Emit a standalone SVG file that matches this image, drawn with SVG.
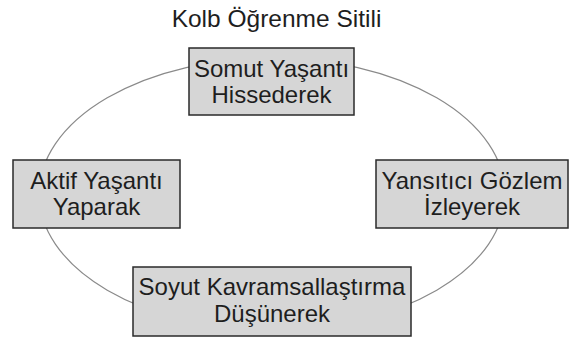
<svg xmlns="http://www.w3.org/2000/svg" width="588" height="339" viewBox="0 0 588 339">
<style>
.bg{fill:#ffffff}
.cycle{fill:none;stroke:#8a8a8a;stroke-width:1.2}
.box{fill:#d6d6d6;stroke:#2a2a2a;stroke-width:1.5}
.t{font-family:"Liberation Sans",Arial,sans-serif;font-size:24px;fill:#1e1e1e;text-anchor:middle}
.title{font-size:24.5px}
</style>
<rect class="bg" x="0" y="0" width="588" height="339"/>
<text class="t title" x="276.5" y="27">Kolb Öğrenme Sitili</text>
<g id="connectors">
<ellipse class="cycle" cx="272" cy="194" rx="233" ry="136"/>
</g>
<g id="somut">
<rect class="box" x="189" y="48" width="165" height="67"/>
<text class="t" x="271.5" y="77">Somut Yaşantı</text>
<text class="t" x="271.5" y="103">Hissederek</text>
</g>
<g id="aktif">
<rect class="box" x="13" y="160" width="167" height="68"/>
<text class="t" x="96.5" y="189">Aktif Yaşantı</text>
<text class="t" x="96.5" y="215">Yaparak</text>
</g>
<g id="yansitici">
<rect class="box" x="376" y="160" width="192" height="68"/>
<text class="t" x="472" y="189">Yansıtıcı Gözlem</text>
<text class="t" x="472" y="215">İzleyerek</text>
</g>
<g id="soyut">
<rect class="box" x="133" y="267" width="278" height="69"/>
<text class="t" x="272" y="295">Soyut Kavramsallaştırma</text>
<text class="t" x="272" y="322">Düşünerek</text>
</g>
</svg>
